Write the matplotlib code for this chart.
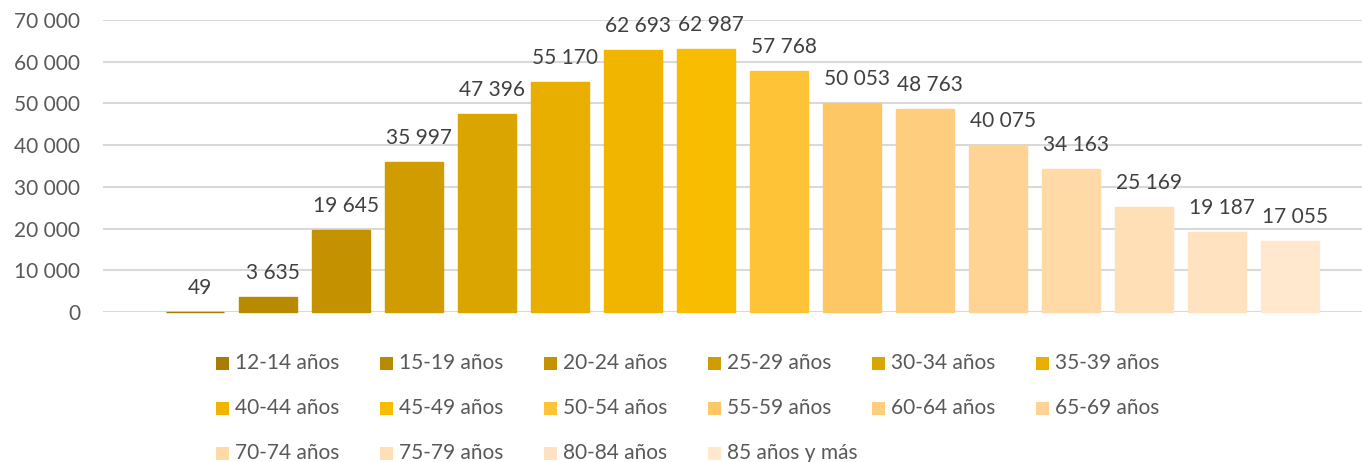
import matplotlib
matplotlib.use("Agg")
import matplotlib.pyplot as plt
from matplotlib.patches import Rectangle

categories = ["12-14 años", "15-19 años", "20-24 años", "25-29 años", "30-34 años",
              "35-39 años", "40-44 años", "45-49 años", "50-54 años", "55-59 años",
              "60-64 años", "65-69 años", "70-74 años", "75-79 años", "80-84 años",
              "85 años y más"]
values = [49, 3635, 19645, 35997, 47396, 55170, 62693, 62987, 57768, 50053,
          48763, 40075, 34163, 25169, 19187, 17055]
colors = ["#A87C00", "#B88A00", "#C49200", "#D19C00", "#DBA500", "#E8AE00",
          "#F1B500", "#F9BD00", "#FFC337", "#FEC765", "#FFCD7E", "#FED394",
          "#FFD9A6", "#FFDFB6", "#FFE3C0", "#FFE8CE"]
yticks = [0, 10000, 20000, 30000, 40000, 50000, 60000, 70000]

def fmt(v):
    return f"{v:,}".replace(",", " ")

plt.rcParams['font.family'] = ['Lato', 'DejaVu Sans']

W, H = 1362, 462
FS = 15
fig = plt.figure(figsize=(W / 100, H / 100), dpi=100)
ax = fig.add_axes([103 / W, (H - 312) / H, (W - 103) / W, 292 / H])

x = list(range(len(values)))
bars = ax.bar(x, values, width=0.795, color=colors, edgecolor=colors,
              linewidth=1.0, zorder=3)
for b in bars:
    b.set_clip_on(False)

for xi, v in zip(x, values):
    ax.annotate(fmt(v), (xi, v), xytext=(3.6, 13), textcoords="offset points",
                ha="center", va="baseline", fontsize=FS, color="#404040")

ax.set_xlim(-1.26, 15.986)
ax.set_ylim(0, 70000)
ax.set_yticks(yticks)
ax.set_yticklabels([fmt(t) for t in yticks])
ax.tick_params(axis="y", length=0, pad=16.5, labelsize=FS, labelcolor="#595959")
ax.set_xticks([])
for s in ax.spines.values():
    s.set_visible(False)
ax.grid(axis="y", color="#D9D9D9", linewidth=1.5, zorder=0)
ax.set_axisbelow(True)

# Legend (Excel-style uniform grid, row-major)
col_x0, col_dx = 216, 164
row_y0, row_dy = 363, 45
psz = 13
for i, (lab, c) in enumerate(zip(categories, colors)):
    r, cc = divmod(i, 6)
    px = col_x0 + cc * col_dx
    py = row_y0 + r * row_dy
    fig.add_artist(Rectangle((px / W, (H - py - psz / 2) / H), psz / W, psz / H,
                             transform=fig.transFigure, facecolor=c, edgecolor="none"))
    fig.text((px + psz + 6) / W, (H - py) / H, lab, ha="left", va="center",
             fontsize=FS, color="#595959")

fig.savefig("out.png", dpi=100)
